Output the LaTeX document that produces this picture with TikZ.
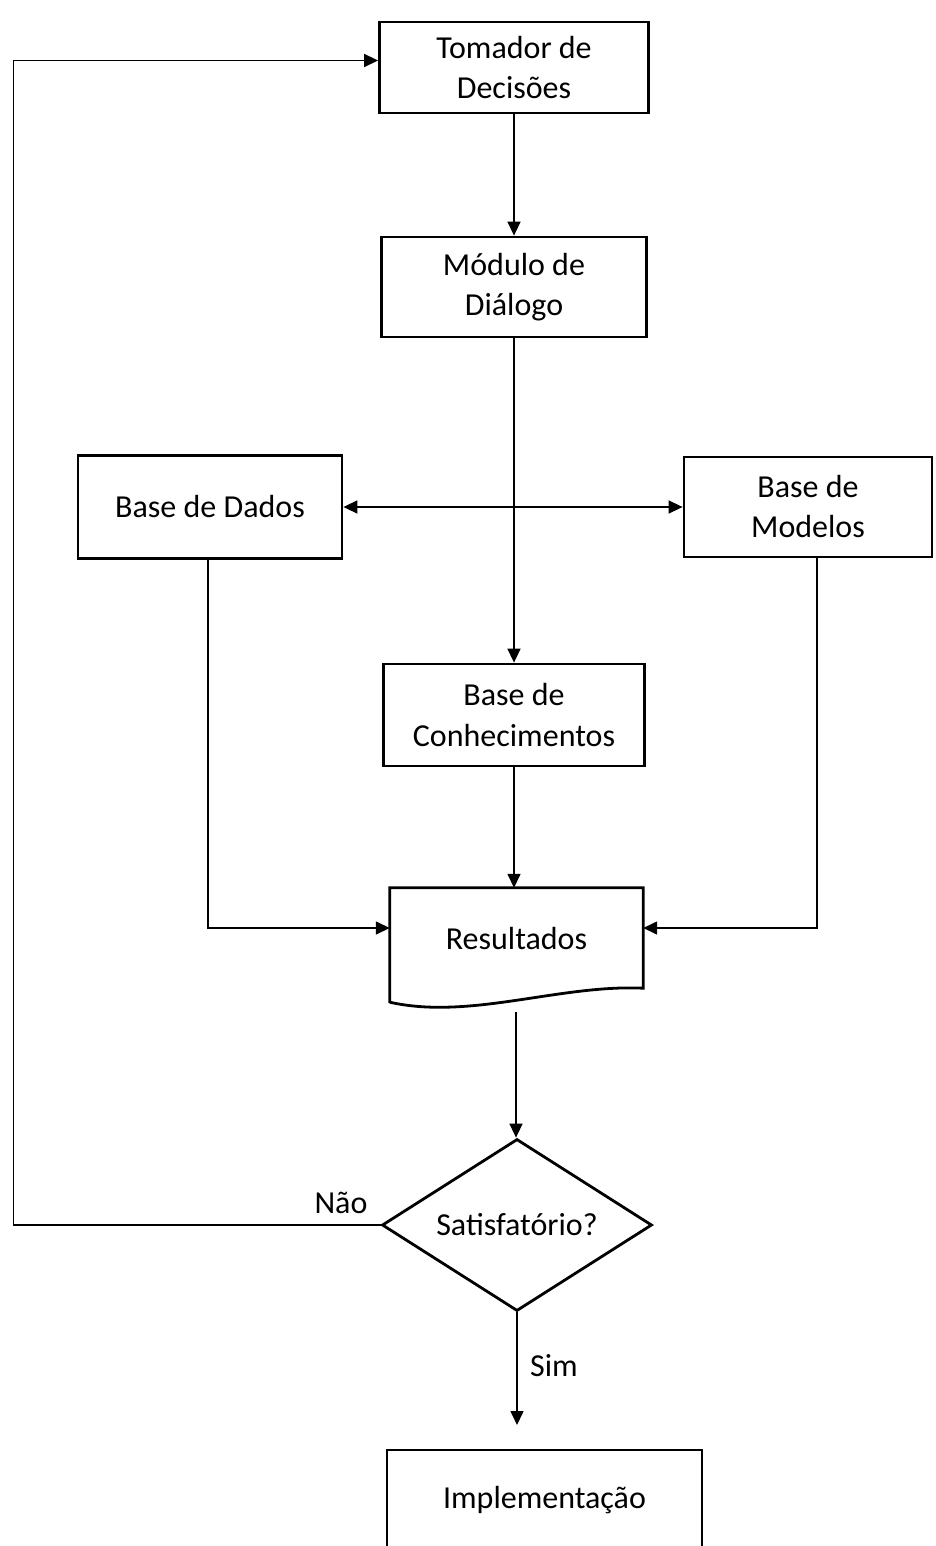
\documentclass[tikz,border=0pt]{standalone}
\usepackage{fontspec}
\setmainfont{Carlito}
\usetikzlibrary{shapes.geometric,arrows.meta}

\begin{document}
\begin{tikzpicture}[x=1pt,y=-1pt,
	every node/.style={font=\fontsize{32}{40}\selectfont},
	caixa/.style={draw,rectangle,line width=2.8pt,align=center,inner sep=0pt},
	losango/.style={draw,diamond,aspect=1.6,line width=2.8pt,align=center,inner sep=0pt},
	liga/.style={line width=1.5pt},
	>={Triangle[length=14pt,width=13pt]}]
			\useasboundingbox (0,0) rectangle (935,1546);
			\node[caixa,minimum width=269pt,minimum height=91pt] (tomador) at (514,67.5) {Tomador de\\Decisões};
			\node[caixa,minimum width=265pt,minimum height=100pt] (modulo) at (514,287) {Módulo de\\Diálogo};
			\node[caixa,minimum width=264pt,minimum height=103pt] (dados) at (210,507) {Base de Dados};
			\node[caixa,minimum width=248pt,minimum height=100pt] (modelos) at (808,507) {Base de\\Modelos};
			\node[caixa,minimum width=261pt,minimum height=102pt] (conhec) at (514,715) {Base de\\Conhecimentos};
			\node[minimum width=253pt,minimum height=100pt,inner sep=0pt] (result) at (516.5,938) {Resultados};
			\node[losango,minimum width=270pt,minimum height=172pt] (satisf) at (517,1225) {Satisfatório?};
			\node[caixa,minimum width=315pt,minimum height=100pt] (implem) at (544.5,1500) {Implementação};
			\node (nao) at (341,1203) {Não};
			\node (sim) at (554,1366) {Sim};
			\coordinate (resfim) at (516,1012);
			\coordinate (simfim) at (517,1425);
			\draw[line width=2.8pt] ([yshift=-15pt]result.south west) -- (result.north west) -- (result.north east) -- (result.south east) .. controls +(-83,-4) and +(80,18) .. ([yshift=-14pt]result.south west) -- cycle;
			\draw[liga,->] (tomador.south) -- (modulo.north);
			\draw[liga,->] (modulo.south) -- (conhec.north);
			\draw[liga,<->] (dados.east) -- (modelos.west);
			\draw[liga,->] (conhec.south) -- (conhec.south |- result.north);
			\draw[liga,->] ([xshift=-2pt]dados.south) |- ([yshift=10pt]result.west);
			\draw[liga,->] ([xshift=9pt]modelos.south) |- ([yshift=10pt]result.east);
			\draw[liga,->] (resfim) -- (resfim |- satisf.north);
			\draw[liga,->] (satisf.south) -- (simfim);
			\draw[liga,->] (satisf.west) -- ++(-367,0) |- ([yshift=7pt]tomador.west);
\end{tikzpicture}
\end{document}
